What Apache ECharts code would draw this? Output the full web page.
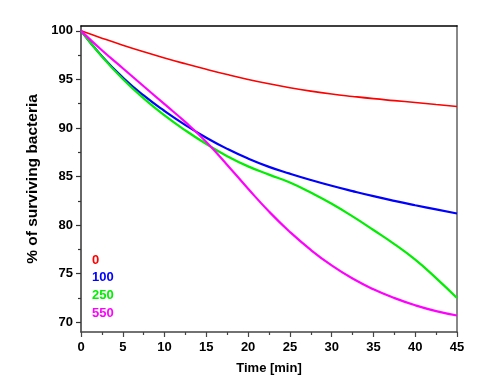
<!DOCTYPE html>
<html>
<head>
<meta charset="utf-8">
<script src="https://cdn.jsdelivr.net/npm/echarts@6/dist/echarts.min.js"></script>
<style>
  html, body { margin: 0; padding: 0; background: #fff; }
  #chart { width: 500px; height: 389px; }
</style>
</head>
<body>
<div id="chart"></div>
<script>
// time axis (min)
const times = [0, 2.5, 5, 7.5, 10, 12.5, 15, 17.5, 20, 22.5, 25, 27.5, 30, 32.5, 35, 37.5, 40, 42.5, 45];

// % of surviving bacteria, per dose
const dose0   = [100, 99.25, 98.53, 97.85, 97.21, 96.61, 96.04, 95.5, 95.0, 94.55, 94.15, 93.8, 93.5, 93.25, 93.02, 92.82, 92.62, 92.42, 92.22];
const dose100 = [100, 97.4, 95.2, 93.35, 91.75, 90.3, 89.0, 87.85, 86.85, 86.0, 85.3, 84.65, 84.05, 83.5, 82.98, 82.5, 82.05, 81.62, 81.2];
const dose250 = [100, 97.35, 95.05, 93.05, 91.3, 89.75, 88.35, 87.1, 86.05, 85.2, 84.4, 83.35, 82.2, 80.9, 79.5, 78.05, 76.45, 74.55, 72.5];
const dose550 = [100, 98.0, 96.15, 94.3, 92.45, 90.6, 88.55, 86.2, 83.75, 81.4, 79.3, 77.45, 75.85, 74.5, 73.4, 72.5, 71.75, 71.15, 70.7];

const doseNames = ['0', '100', '250', '550'];
const doseColors = ['#ff0000', '#0000ff', '#00ee00', '#ff00ff'];
const doseValues = [dose0, dose100, dose250, dose550];

// tick labels
const yMajor = [70, 75, 80, 85, 90, 95, 100];
const yMinor = [72.5, 77.5, 82.5, 87.5, 92.5, 97.5];

const font = 'Liberation Sans, Arial, sans-serif';
const chart = echarts.init(document.getElementById('chart'));

const series = doseNames.map((name, i) => ({
  name: name,
  type: 'line',
  smooth: true,
  showSymbol: false,
  symbol: 'none',
  xAxisIndex: 0,
  yAxisIndex: 0,
  lineStyle: { color: doseColors[i], width: i === 0 ? 1.6 : 2.2 },
  itemStyle: { color: doseColors[i] },
  data: times.map((t, j) => [t, doseValues[i][j]]),
}));

const option = {
  animation: false,
  backgroundColor: '#fff',
  grid: { left: 81, right: 43, top: 26, bottom: 57 },
  legend: {
    orient: 'vertical',
    left: 82,
    top: 248,
    icon: 'none',
    itemWidth: 0,
    itemHeight: 14,
    itemGap: 4.3,
    textStyle: { fontFamily: font, fontWeight: 'bold', fontSize: 13 },
    data: doseNames.map((n, i) => ({ name: n, textStyle: { color: doseColors[i] } })),
    selectedMode: false,
  },
  xAxis: [
    {
      type: 'value',
      position: 'bottom',
      min: 0,
      max: 45,
      interval: 5,
      name: 'Time [min]',
      nameLocation: 'middle',
      nameGap: 30,
      nameTextStyle: { fontFamily: font, fontWeight: 'bold', fontSize: 13, color: '#000' },
      axisLine: { lineStyle: { color: '#444', width: 1.5 } },
      axisTick: { length: 5, lineStyle: { color: '#444', width: 1.2 } },
      minorTick: { show: true, splitNumber: 2, length: 3, lineStyle: { color: '#444', width: 1.2 } },
      axisLabel: { fontFamily: font, fontWeight: 'bold', fontSize: 13, color: '#000', margin: 9 },
      splitLine: { show: false },
    },
    {
      type: 'value',
      position: 'top',
      min: 0,
      max: 45,
      axisLine: { show: true, lineStyle: { color: '#000', width: 1.5 } },
      axisTick: { show: false },
      axisLabel: { show: false },
      splitLine: { show: false },
    },
  ],
  yAxis: [
    {
      type: 'value',
      position: 'left',
      min: 69,
      max: 100.5,
      name: '% of surviving bacteria',
      nameLocation: 'middle',
      nameGap: 38,
      nameTextStyle: { fontFamily: font, fontWeight: 'bold', fontSize: 15.5, color: '#000' },
      axisLine: { show: true, lineStyle: { color: '#333', width: 1.5 } },
      axisTick: { show: true, length: 5, customValues: yMajor, lineStyle: { color: '#333', width: 1.2 } },
      axisLabel: { customValues: yMajor, fontFamily: font, fontWeight: 'bold', fontSize: 13, color: '#000', margin: 8 },
      splitLine: { show: false },
    },
    {
      type: 'value',
      position: 'left',
      min: 69,
      max: 100.5,
      axisLine: { show: false },
      axisTick: { show: true, length: 3, customValues: yMinor, lineStyle: { color: '#333', width: 1.2 } },
      axisLabel: { show: false },
      splitLine: { show: false },
    },
    {
      type: 'value',
      position: 'right',
      min: 69,
      max: 100.5,
      axisLine: { show: true, lineStyle: { color: '#888', width: 2 } },
      axisTick: { show: false },
      axisLabel: { show: false },
      splitLine: { show: false },
    },
  ],
  series: series,
};

chart.setOption(option);
</script>
</body>
</html>
